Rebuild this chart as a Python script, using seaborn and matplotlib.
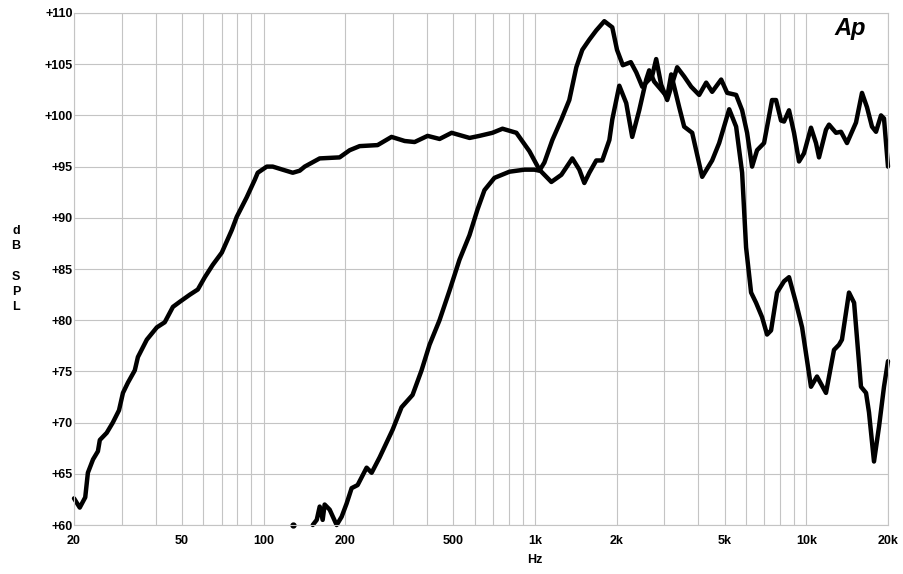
import numpy as np
import pandas as pd
import matplotlib
matplotlib.use("Agg")
import matplotlib.pyplot as plt
from matplotlib.ticker import FixedLocator, NullFormatter
import seaborn as sns

# frequency response (Hz, dB SPL)
woofer_freq = [20, 21.0, 22.0, 22.5, 23.5, 24.5, 24.9, 26.4, 27.8, 29.3, 30.3, 31.6,
               33.5, 34.4, 37.1, 40.4, 43.2, 46.3, 49.1, 53.5, 57.2, 60.7, 64.9, 70.1,
               76.3, 79.6, 86.6, 92.7, 95.1, 102.7, 108, 117.5, 128, 135.8, 141.7, 160.9,
               190.5, 207.5, 225.8, 263, 296, 331, 360, 402, 445, 493, 574, 624, 697,
               759, 854, 954, 1038, 1149, 1251, 1373, 1457, 1520, 1586, 1682, 1770,
               1880, 1927, 2045, 2169, 2282, 2422, 2570, 2636, 2750, 2918, 3071, 3177,
               3400, 3547, 3796, 4132, 4497, 4773, 5197, 5512, 5800, 5998, 6258, 6528,
               6868, 7166, 7413, 7800, 8276, 8635, 9160, 9647, 10404, 10948, 11817,
               12648, 13195, 13530, 14364, 15000, 15903, 16600, 17021, 17759, 18531,
               19331, 20000]
woofer_db = [62.6, 61.7, 62.7, 65.1, 66.4, 67.2, 68.3, 69.0, 70.0, 71.2, 72.9, 73.9,
             75.1, 76.4, 78.1, 79.3, 79.8, 81.3, 81.8, 82.5, 83.0, 84.2, 85.4, 86.6,
             88.8, 90.1, 92.0, 93.7, 94.4, 95.0, 95.0, 94.7, 94.4, 94.6, 95.0, 95.8,
             95.9, 96.6, 97.0, 97.1, 97.9, 97.5, 97.4, 98.0, 97.7, 98.3, 97.8, 98.0, 98.3,
             98.7, 98.3, 96.5, 94.7, 93.5, 94.2, 95.8, 94.7, 93.4, 94.4, 95.6, 95.6,
             97.6, 99.6, 102.9, 101.2, 97.9, 100.5, 103.5, 104.4, 103.3, 102.5, 101.8, 104.0,
             100.8, 98.9, 98.3, 94.0, 95.6, 97.3, 100.6, 98.9, 94.4, 87.1, 82.7, 81.7,
             80.3, 78.6, 79.0, 82.7, 83.8, 84.2, 81.7, 79.3, 73.5, 74.5, 72.9,
             77.1, 77.6, 78.1, 82.7, 81.7, 73.5, 72.9, 71.0, 66.2, 69.6,
             73.5, 76.0]

tweeter_freq = [151.7, 156.9, 160.9, 165.0, 167.8, 175.1, 185.8, 193.8, 202.2, 211.0,
                222.0, 239.6, 250.0, 267.5, 298.7, 322.3, 353.8, 381.9, 408.6, 444.8,
                484.3, 526.8, 573.5, 613.8, 651.3, 708.9, 805, 914, 995, 1038, 1083,
                1159, 1251, 1338, 1420, 1494, 1586, 1682, 1801, 1927, 2006, 2107, 2255,
                2362, 2485, 2700, 2797, 2918, 3071, 3342, 3547, 3764, 4028, 4275, 4497,
                4855, 5110, 5512, 5800, 6050, 6311, 6584, 6986, 7476, 7734, 8068, 8276,
                8635, 9009, 9398, 9805, 10404, 10855, 11136, 11817, 12123, 12863, 13421,
                14122, 15243, 16039, 16734, 17460, 18065, 18847, 19331, 20000]
tweeter_db = [60.0, 60.5, 61.8, 60.5, 62.0, 61.5, 60.0, 60.8, 62.1, 63.6,
              63.9, 65.6, 65.1, 66.6, 69.3, 71.5, 72.7, 75.1, 77.6, 80.0,
              82.9, 85.9, 88.3, 90.8, 92.7, 93.9, 94.5, 94.7, 94.7, 94.6, 95.4,
              97.6, 99.6, 101.5, 104.7, 106.4, 107.4, 108.3, 109.2, 108.6, 106.4, 104.9, 105.2,
              104.2, 102.8, 103.8, 105.5, 103.0, 101.5, 104.7, 103.8, 102.8, 102.0, 103.2, 102.3,
              103.5, 102.2, 102.0, 100.5, 98.3, 95.0, 96.6, 97.3, 101.5, 101.5, 99.5, 99.4,
              100.5, 98.3, 95.5, 96.3, 98.8, 97.3, 95.9, 98.6, 99.1, 98.3, 98.4,
              97.3, 99.3, 102.2, 100.8, 98.9, 98.4, 100.0, 99.7, 95.0]

# stray point at the bottom edge
dot_freq = [128]
dot_db = [60.0]

xtick_vals = [20, 50, 100, 200, 500, 1000, 2000, 5000, 10000, 20000]
xtick_labels = ["20", "50", "100", "200", "500", "1k", "2k", "5k", "10k", "20k"]
ytick_vals = [60, 65, 70, 75, 80, 85, 90, 95, 100, 105, 110]
ytick_labels = ["+%d" % v for v in ytick_vals]

df = pd.concat([
    pd.DataFrame({"freq": woofer_freq, "db": woofer_db, "curve": "woofer"}),
    pd.DataFrame({"freq": tweeter_freq, "db": tweeter_db, "curve": "tweeter"}),
])

sns.set_style("white")
plt.rcParams["font.family"] = ["Liberation Sans Narrow", "Liberation Sans", "DejaVu Sans"]
plt.rcParams["text.color"] = "black"
plt.rcParams["xtick.color"] = "black"
plt.rcParams["ytick.color"] = "black"

fig = plt.figure(figsize=(9.04, 5.74), dpi=100)
ax = fig.add_axes([74 / 904, 1 - 525 / 574, 814 / 904, 512 / 574])

sns.lineplot(data=df, x="freq", y="db", hue="curve", units="curve",
             estimator=None, sort=False, palette=["black", "black"],
             linewidth=3.2, legend=False, ax=ax, clip_on=False,
             solid_joinstyle="round", solid_capstyle="round")
ax.plot(dot_freq, dot_db, "o", color="black", markersize=3.5, clip_on=False)

ax.set_xscale("log")
ax.set_xlim(20, 20000)
ax.set_ylim(60, 110)

minor_x = [m * 10 ** e for e in range(1, 5) for m in range(2, 10)]
ax.xaxis.set_major_locator(FixedLocator(xtick_vals))
ax.xaxis.set_minor_locator(FixedLocator([v for v in minor_x if 20 < v < 20000]))
ax.xaxis.set_minor_formatter(NullFormatter())
ax.set_xticks(xtick_vals)
ax.set_xticklabels(xtick_labels)
ax.set_yticks(ytick_vals)
ax.set_yticklabels(ytick_labels)
ax.yaxis.set_minor_locator(FixedLocator(np.arange(60, 110.01, 1)))

ax.grid(True, which="both", axis="x", color="#c4c4c4", linewidth=0.8)
ax.grid(True, which="major", axis="y", color="#c4c4c4", linewidth=0.8)
ax.set_axisbelow(True)

ax.tick_params(axis="x", which="both", length=0, pad=7, labelsize=9, labelcolor="black")
ax.tick_params(axis="y", which="major", length=0, pad=1, labelsize=9, labelcolor="black")
ax.tick_params(axis="y", which="minor", length=3, direction="in", color="#b0b0b0", width=0.6)
for lab in ax.get_xticklabels() + ax.get_yticklabels():
    lab.set_fontweight("bold")

for side in ["left", "right", "top", "bottom"]:
    ax.spines[side].set_color("#c4c4c4")
    ax.spines[side].set_linewidth(0.8)

ax.set_xlabel("")
ax.set_ylabel("")
fig.text(535 / 904, 1 - 560 / 574, "Hz", ha="center", va="center",
         fontsize=9, fontweight="bold", color="black")
fig.text(16 / 904, 1 - 269 / 574, "d\nB\n\nS\nP\nL", ha="center", va="center",
         fontsize=9, fontweight="bold", linespacing=1.35, color="black")
fig.text(850 / 904, 1 - 28 / 574, "Ap", ha="center", va="center",
         fontsize=17, fontweight="bold", fontstyle="italic", color="black",
         family=["Liberation Sans", "DejaVu Sans"])

fig.savefig("out.png", dpi=100)
